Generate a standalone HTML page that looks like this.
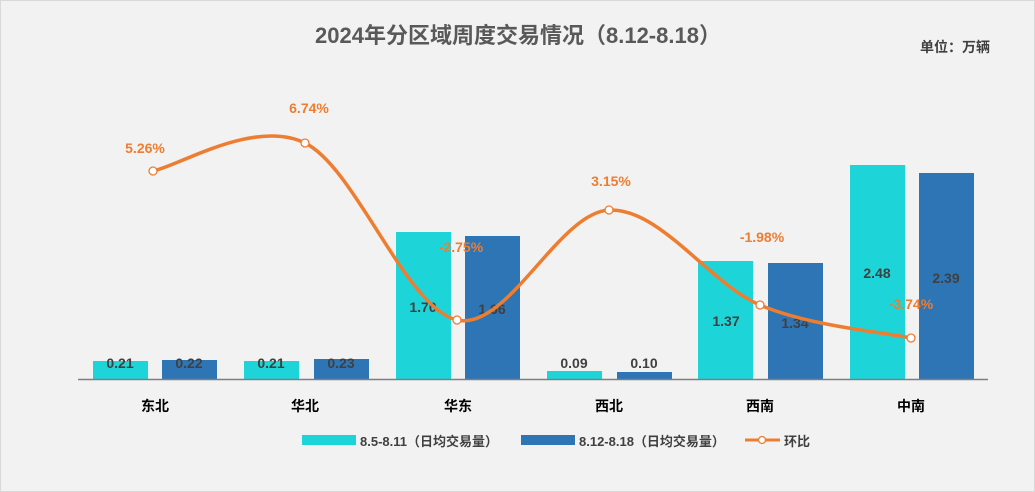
<!DOCTYPE html>
<html><head><meta charset="utf-8"><style>
html,body{margin:0;padding:0;background:#f2f2f2;}
svg{display:block;font-family:"Liberation Sans","Noto Sans CJK SC",sans-serif;}
</style></head><body>
<svg width="1035" height="492" viewBox="0 0 1035 492" xmlns="http://www.w3.org/2000/svg">
<rect x="0.5" y="0.5" width="1034" height="491" fill="#f2f2f2" stroke="#d9d9d9"/>
<text x="518" y="43" text-anchor="middle" font-size="22" font-weight="bold" fill="#595959">2024年分区域周度交易情况（8.12-8.18）</text>
<text x="990" y="52" text-anchor="end" font-size="14" font-weight="bold" fill="#404040">单位：万辆</text>
<g fill="#1dd5d9">
<rect x="93" y="361" width="55" height="18"/>
<rect x="244" y="361" width="55" height="18"/>
<rect x="396" y="232" width="55" height="147"/>
<rect x="547" y="371" width="55" height="8"/>
<rect x="698" y="261" width="55" height="118"/>
<rect x="850" y="165" width="55" height="214"/>
</g>
<g fill="#2e75b6">
<rect x="162" y="360" width="55" height="19"/>
<rect x="314" y="359" width="55" height="20"/>
<rect x="465" y="236" width="55" height="143"/>
<rect x="617" y="372" width="55" height="7"/>
<rect x="768" y="263" width="55" height="116"/>
<rect x="919" y="173" width="55" height="206"/>
</g>
<line x1="78" y1="379.5" x2="988" y2="379.5" stroke="#7f7f7f" stroke-width="1.5"/>
<g font-size="14" font-weight="bold" fill="#404040" text-anchor="middle">
<text x="120" y="368">0.21</text><text x="189" y="368">0.22</text>
<text x="271" y="368">0.21</text><text x="341" y="368">0.23</text>
<text x="423" y="312">1.70</text><text x="492" y="314">1.66</text>
<text x="574" y="368">0.09</text><text x="644" y="368">0.10</text>
<text x="726" y="326">1.37</text><text x="795" y="328">1.34</text>
<text x="877" y="278">2.48</text><text x="946" y="283">2.39</text>
</g>
<path d="M153,171 C178.3,166.3 254.3,118.2 305,143 C355.7,167.8 406.3,308.8 457,320 C507.7,331.2 558.5,212.5 609,210 C659.5,207.5 709.7,283.7 760,305 C810.3,326.3 885.8,332.5 911,338" fill="none" stroke="#ed7d31" stroke-width="3.5"/>
<g fill="#fff" stroke="#ed7d31" stroke-width="1.3">
<circle cx="153" cy="171" r="4"/><circle cx="305" cy="143" r="4"/><circle cx="457" cy="320" r="4"/>
<circle cx="609" cy="210" r="4"/><circle cx="760" cy="305" r="4"/><circle cx="911" cy="338" r="4"/>
</g>
<g font-size="14" font-weight="bold" fill="#ed7d31" text-anchor="middle">
<text x="145" y="153">5.26%</text><text x="309" y="113">6.74%</text>
<text x="461" y="252">-2.75%</text><text x="611" y="186">3.15%</text>
<text x="762" y="242">-1.98%</text><text x="911" y="309">-3.74%</text>
</g>
<g font-size="14" font-weight="bold" fill="#000" text-anchor="middle">
<text x="155" y="411">东北</text><text x="305" y="411">华北</text><text x="458" y="411">华东</text>
<text x="609" y="411">西北</text><text x="760" y="411">西南</text><text x="911" y="411">中南</text>
</g>
<rect x="302" y="435" width="54" height="10" fill="#1dd5d9"/>
<text x="360" y="446" font-size="13" font-weight="bold" fill="#404040">8.5-8.11（日均交易量）</text>
<rect x="521" y="435" width="54" height="10" fill="#2e75b6"/>
<text x="579" y="446" font-size="13" font-weight="bold" fill="#404040">8.12-8.18（日均交易量）</text>
<line x1="745" y1="440" x2="780" y2="440" stroke="#ed7d31" stroke-width="3"/>
<circle cx="762" cy="440" r="3.5" fill="#fff" stroke="#ed7d31" stroke-width="1.3"/>
<text x="784" y="446" font-size="13" font-weight="bold" fill="#404040">环比</text>
</svg>
</body></html>
